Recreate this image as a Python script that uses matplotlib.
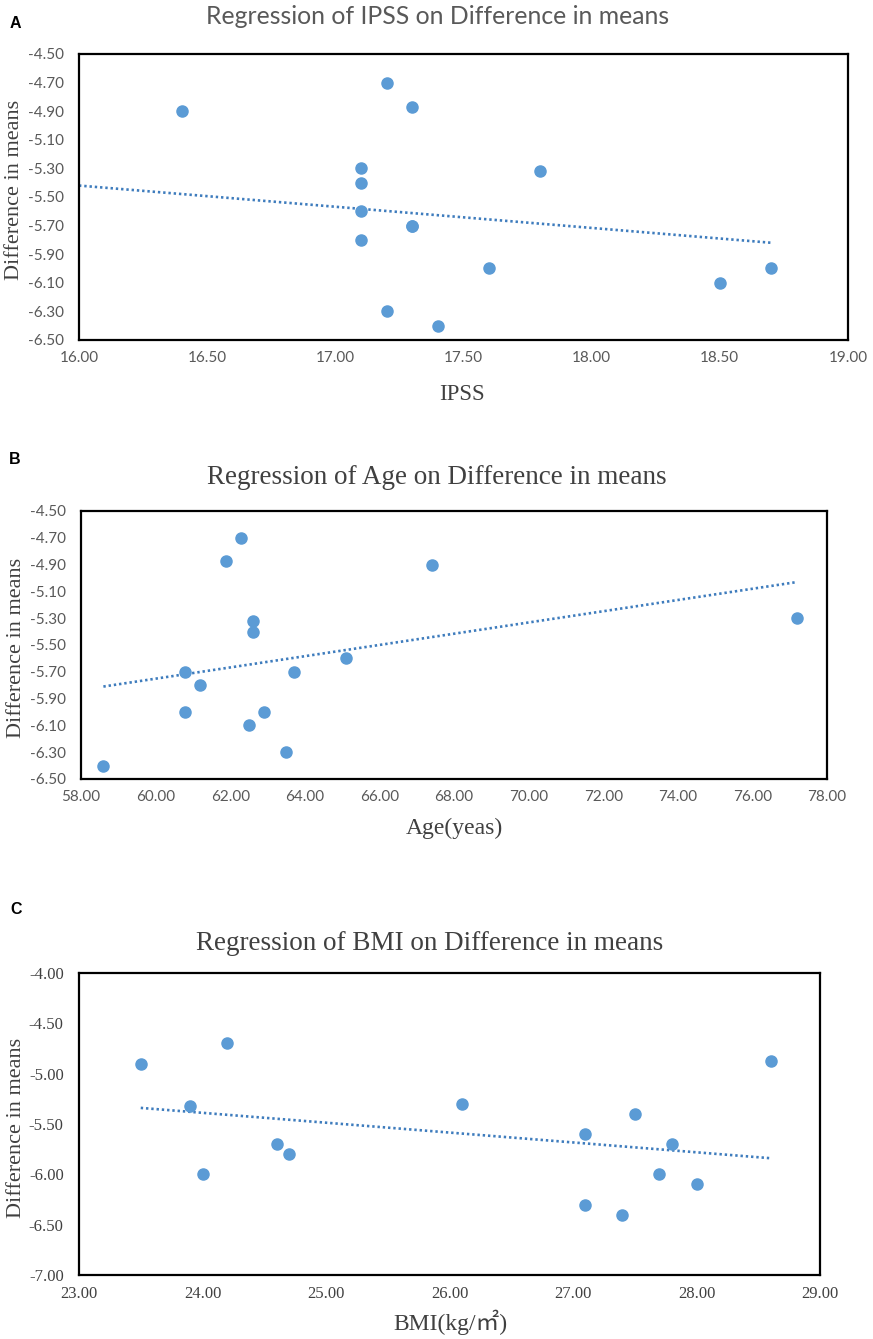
import numpy as np
import matplotlib.pyplot as plt
from matplotlib.ticker import FuncFormatter

# data
ipss_x = [16.4, 17.2, 17.3, 17.1, 17.1, 17.1, 17.1, 17.3, 17.3, 17.2, 17.4, 17.6, 17.8, 18.5, 18.7]
ipss_y = [-4.9, -4.7, -4.87, -5.3, -5.4, -5.6, -5.8, -5.7, -5.7, -6.3, -6.4, -6.0, -5.32, -6.1, -6.0]

age_x = [62.3, 61.9, 67.4, 62.6, 62.6, 77.2, 65.1, 60.8, 63.7, 61.2, 60.8, 62.9, 62.5, 63.5, 58.6]
age_y = [-4.7, -4.87, -4.9, -5.32, -5.4, -5.3, -5.6, -5.7, -5.7, -5.8, -6.0, -6.0, -6.1, -6.3, -6.4]

bmi_x = [23.5, 24.2, 23.9, 24.0, 24.6, 24.7, 26.1, 27.1, 27.1, 27.4, 27.5, 27.7, 27.8, 28.0, 28.6]
bmi_y = [-4.9, -4.7, -5.32, -6.0, -5.7, -5.8, -5.3, -5.6, -6.3, -6.4, -5.4, -6.0, -5.7, -6.1, -4.87]

# dotted trendlines as drawn (ends)
ipss_trend_x = [16.0, 18.7]
ipss_trend_y = [-5.42, -5.82]
age_trend_x = [58.6, 77.2]
age_trend_y = [-5.81, -5.03]
bmi_trend_x = [23.5, 28.6]
bmi_trend_y = [-5.34, -5.84]

ipss_xticks = [16.0, 16.5, 17.0, 17.5, 18.0, 18.5, 19.0]
ipss_yticks = [-4.5, -4.7, -4.9, -5.1, -5.3, -5.5, -5.7, -5.9, -6.1, -6.3, -6.5]
age_xticks = [58, 60, 62, 64, 66, 68, 70, 72, 74, 76, 78]
age_yticks = ipss_yticks
bmi_xticks = [23, 24, 25, 26, 27, 28, 29]
bmi_yticks = [-4.0, -4.5, -5.0, -5.5, -6.0, -6.5, -7.0]

W, H = 873, 1339
fig = plt.figure(figsize=(W / 100, H / 100), dpi=100)

SANS = ['Lato', 'DejaVu Sans']
SERIF = ['Liberation Serif', 'Noto Sans CJK SC', 'DejaVu Sans']
DOT = '#5B9BD5'
LINE = '#3E7CBD'
GREY = '#595959'
DARK = '#404040'


def px(x, y):
    return x / W, 1 - y / H


def panel(box, xs, ys, tx, ty, xticks, yticks, tick_font, tick_size, tick_col):
    l, t, r, b = box
    ax = fig.add_axes([l / W, 1 - b / H, (r - l) / W, (b - t) / H])
    ax.scatter(xs, ys, s=64, color=DOT, edgecolors=DOT, zorder=3)
    ax.plot(tx, ty, color=LINE, lw=1.9, linestyle=(0, (0.9, 1.1)), zorder=2)
    ax.set_xlim(xticks[0], xticks[-1])
    ax.set_ylim(min(yticks), max(yticks))
    ax.set_xticks(xticks)
    ax.set_yticks(yticks)
    fmt = FuncFormatter(lambda v, p: '%.2f' % v)
    ax.xaxis.set_major_formatter(fmt)
    ax.yaxis.set_major_formatter(fmt)
    ax.tick_params(length=0, labelsize=tick_size, labelcolor=tick_col)
    ax.tick_params(axis='y', pad=11)
    ax.tick_params(axis='x', pad=8)
    for lab in ax.get_xticklabels() + ax.get_yticklabels():
        lab.set_family(tick_font)
    for sp in ax.spines.values():
        sp.set_linewidth(1.6)
        sp.set_color('black')
    return ax


panel((79, 54, 848, 340), ipss_x, ipss_y, ipss_trend_x, ipss_trend_y,
      ipss_xticks, ipss_yticks, SANS, 11, GREY)
panel((81, 511, 827, 779), age_x, age_y, age_trend_x, age_trend_y,
      age_xticks, age_yticks, SANS, 11, GREY)
panel((79, 973, 820, 1275), bmi_x, bmi_y, bmi_trend_x, bmi_trend_y,
      bmi_xticks, bmi_yticks, SERIF, 12, DARK)

# panel letters
for letter, (x, y) in zip(['A', 'B', 'C'], [(15, 23), (15, 459), (16, 909)]):
    fig.text(*px(x, y), letter, family='Liberation Sans', weight='bold', fontsize=11.5,
             ha='center', va='center')

# titles
fig.text(*px(438, 17), 'Regression of IPSS on Difference in means', family=SANS,
         fontsize=17.8, color=GREY, ha='center', va='center')
fig.text(*px(437, 478), 'Regression of Age on Difference in means', family=SERIF,
         fontsize=19.5, color=DARK, ha='center', va='center')
fig.text(*px(430, 943), 'Regression of BMI on Difference in means', family=SERIF,
         fontsize=19.5, color=DARK, ha='center', va='center')

# axis labels
fig.text(*px(462, 395), 'IPSS', family=SERIF, fontsize=16.5, color=DARK, ha='center', va='center')
fig.text(*px(454, 828), 'Age(yeas)', family=SERIF, fontsize=17, color=DARK, ha='center', va='center')
fig.text(*px(450, 1322), 'BMI(kg/㎡)', family=SERIF, fontsize=17, color=DARK, ha='center', va='center')

for (x, y) in [(15, 190), (17, 648), (17, 1128)]:
    fig.text(*px(x, y), 'Difference in means', family=SERIF, fontsize=16, color=DARK,
             rotation=90, ha='center', va='center')

plt.savefig('out.png', dpi=100)
